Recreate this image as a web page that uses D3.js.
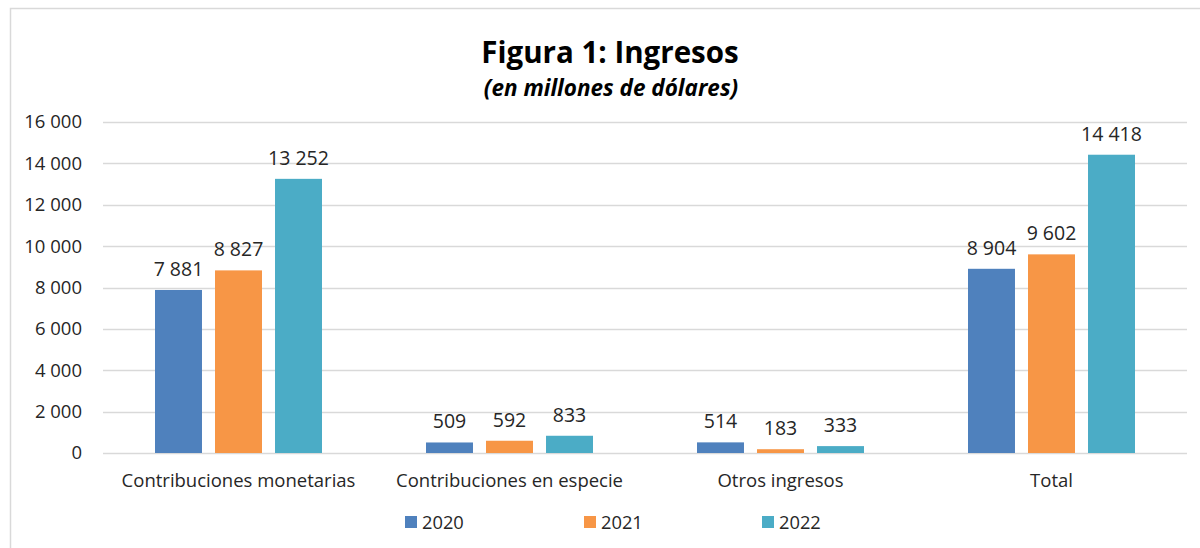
<!DOCTYPE html>
<html><head><meta charset="utf-8">
<script src="https://cdn.jsdelivr.net/npm/d3@7"></script>
<style>body{margin:0;background:#fff;}svg{display:block;font-family:"Open Sans",sans-serif;}</style>
</head><body>
<svg id="c" width="1200" height="548"></svg>
<script>
const categories = ["Contribuciones monetarias","Contribuciones en especie","Otros ingresos","Total"];
const seriesNames = ["2020","2021","2022"];
const values2020 = [7881, 509, 514, 8904];
const values2021 = [8827, 592, 183, 9602];
const values2022 = [13252, 833, 333, 14418];
const yTicks = [0,2000,4000,6000,8000,10000,12000,14000,16000];
const colors = ["#4F81BD","#F79646","#4BACC6"];

(function(){
const series = [values2020, values2021, values2022];
const svg = d3.select("#c");
const fmt = v => d3.format(",")(v).replace(/,/g, " ");

// border
svg.append("rect").attr("x",10.5).attr("y",8.5).attr("width",1200).attr("height",560)
  .attr("fill","none").attr("stroke","#d9d9d9").attr("stroke-width",1.5);

const pl = 103, pr = 1187, pt = 122, pb = 453;
const x0 = d3.scaleBand().domain(categories).range([pl,pr]).paddingInner(0).paddingOuter(0);
const y = d3.scaleLinear().domain([0,16000]).range([pb,pt]);
const groupW = x0.bandwidth();
const x1 = d3.scaleBand().domain(seriesNames).range([(groupW-167)/2,(groupW+167)/2]).paddingInner(0.217).paddingOuter(0);

// gridlines
svg.append("g").selectAll("line").data(yTicks).join("line")
  .attr("x1",pl).attr("x2",pr).attr("y1",d=>Math.round(y(d))+0.5).attr("y2",d=>Math.round(y(d))+0.5)
  .attr("stroke","#d9d9d9").attr("stroke-width",1.3);

// y axis labels
const yAxis = d3.axisLeft(y).tickValues(yTicks).tickSize(0).tickPadding(0).tickFormat(fmt);
const ya = svg.append("g").attr("transform",`translate(82,0)`).call(yAxis);
ya.select(".domain").remove();
ya.selectAll("text").attr("font-size",18.5).attr("fill","#262626").attr("font-family","Open Sans");

// bars
const g = svg.append("g");
categories.forEach((c,i)=>{
  series.forEach((s,j)=>{
    const bx = x0(c)+x1(seriesNames[j]);
    g.append("rect").attr("x",bx).attr("y",y(s[i])).attr("width",x1.bandwidth())
      .attr("height",y(0)-y(s[i])).attr("fill",colors[j]);
    g.append("text").attr("x",bx+x1.bandwidth()/2).attr("y",y(s[i])-14)
      .attr("text-anchor","middle").attr("font-size",19.5).attr("fill","#262626").text(fmt(s[i]));
  });
});

// x axis labels
const xAxis = d3.axisBottom(x0).tickSize(0).tickPadding(0);
const xa = svg.append("g").attr("transform",`translate(0,${pb+34})`).call(xAxis);
xa.select(".domain").remove();
xa.selectAll("text").attr("font-size",18.5).attr("fill","#262626").attr("font-family","Open Sans").attr("dy","0").attr("y",0);

// title
svg.append("text").attr("x",610).attr("y",63).attr("text-anchor","middle").attr("font-size",29.5)
  .attr("font-weight","bold").attr("fill","#000").text("Figura 1: Ingresos");
svg.append("text").attr("x",611).attr("y",96).attr("text-anchor","middle").attr("font-size",22.5)
  .attr("font-weight","bold").attr("font-style","italic").attr("fill","#000").text("(en millones de dólares)");

// legend
const legX = [405, 584, 762];
const lg = svg.append("g");
seriesNames.forEach((n,j)=>{
  lg.append("rect").attr("x",legX[j]).attr("y",516).attr("width",12).attr("height",12).attr("fill",colors[j]);
  lg.append("text").attr("x",legX[j]+17).attr("y",529).attr("font-size",18.3).attr("fill","#262626").text(n);
});
})();
</script>
</body></html>
